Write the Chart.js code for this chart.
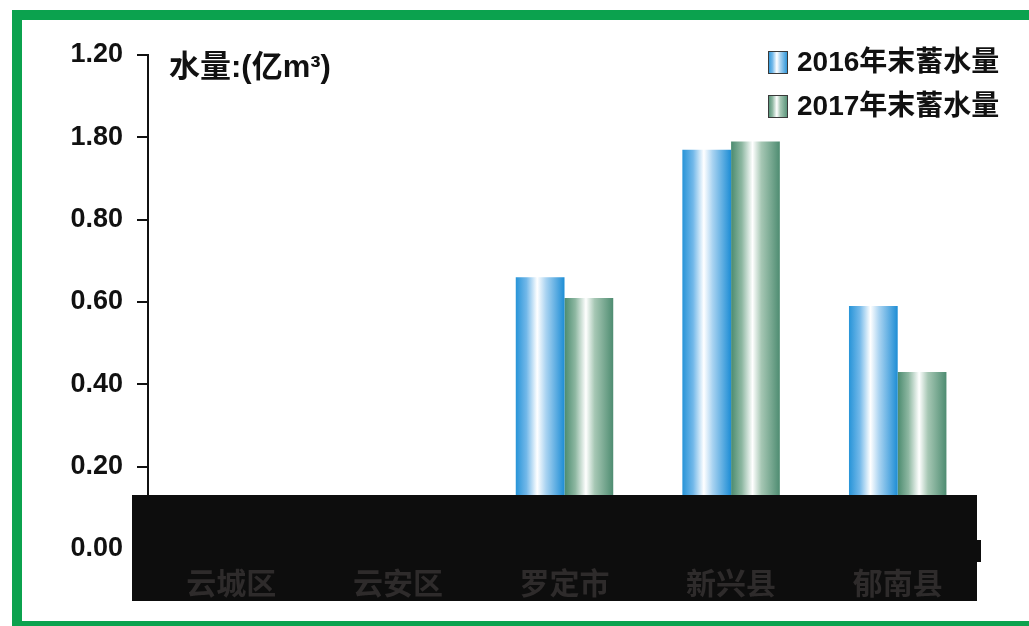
<!DOCTYPE html>
<html>
<head>
<meta charset="utf-8">
<script src="https://cdn.jsdelivr.net/npm/chart.js@4.4.0/dist/chart.umd.min.js"></script>
<style>
  body { margin: 0; background: #fff; overflow: hidden; }
  #wrap { position: relative; width: 1029px; height: 626px; overflow: hidden; }
  #frame {
    position: absolute; left: 12px; top: 10px; width: 1100px; height: 601px;
    border: 10px solid #0ba24e; pointer-events: none;
  }
</style>
</head>
<body>
<div id="wrap">
  <canvas id="myChart" width="1029" height="626"></canvas>
  <div id="frame"></div>
</div>
<script>
const categories = ['云城区', '云安区', '罗定市', '新兴县', '郁南县'];
const storage2016 = [null, null, 0.66, 0.97, 0.59];
const storage2017 = [null, null, 0.61, 0.99, 0.43];
const seriesNames = ['2016年末蓄水量', '2017年末蓄水量'];
const yTickLabels = ['0.00', '0.20', '0.40', '0.60', '0.80', '1.80', '1.20'];
const unitLabel = '水量:(亿m³)';

const CAT_PCT = 0.585;
const blueStops = [[0, '#2794d8'], [0.22, '#72b8e9'], [0.44, '#ffffff'], [0.62, '#a9d3f1'], [1, '#1d8dd5']];
const greenStops = [[0, '#4b8b6f'], [0.22, '#8db7a1'], [0.44, '#ffffff'], [0.62, '#a6c7b4'], [1, '#4e8c71']];

function makeGradient(ctx2d, left, width, stops) {
  const g = ctx2d.createLinearGradient(left, 0, left + width, 0);
  for (const s of stops) g.addColorStop(s[0], s[1]);
  return g;
}

// horizontal shine across each bar, worked out from the category scale
function barFill(stops) {
  return function(ctx) {
    const chart = ctx.chart;
    const xs = chart.scales.x;
    if (!xs || ctx.dataIndex === undefined) return stops[0][1];
    const catW = xs.width / categories.length;
    const groupW = catW * CAT_PCT;
    const barW = groupW / 2;
    const left = xs.getPixelForValue(ctx.dataIndex) - groupW / 2 + ctx.datasetIndex * barW;
    if (!isFinite(left) || !isFinite(barW) || barW <= 0) return stops[0][1];
    return makeGradient(chart.ctx, left, barW, stops);
  };
}

// black band over the foot of the chart (category labels are drawn on top of it)
const bandPlugin = {
  id: 'band',
  afterDatasetsDraw(chart) {
    const c = chart.ctx;
    c.save();
    c.fillStyle = '#0d0d0d';
    c.fillRect(132, 495, 845, 106);
    c.fillRect(976, 540, 5, 22);
    c.restore();
  }
};

// unit caption and legend
const labelsPlugin = {
  id: 'labels',
  afterDraw(chart) {
    const c = chart.ctx;
    c.save();
    c.fillStyle = '#111';
    c.textBaseline = 'middle';
    c.font = 'bold 31px "Liberation Sans", "Noto Sans CJK SC"';
    c.fillText(unitLabel, 169, 68);

    const fills = [blueStops, greenStops];
    chart.data.datasets.forEach(function(ds, i) {
      const y = 51 + i * 44;
      c.fillStyle = makeGradient(c, 768, 20, fills[i]);
      c.fillRect(768, y, 20, 23);
      c.strokeStyle = '#3a3a3a';
      c.lineWidth = 1;
      c.strokeRect(768.5, y + 0.5, 19, 22);
      c.fillStyle = '#111';
      c.font = 'bold 28px "Liberation Sans", "Noto Sans CJK SC"';
      c.fillText(ds.label, 797, y + 12);
    });
    c.restore();
  }
};

const data = {
  labels: categories,
  datasets: [
    {
      label: seriesNames[0],
      data: storage2016,
      backgroundColor: barFill(blueStops),
      borderWidth: 0,
      categoryPercentage: CAT_PCT,
      barPercentage: 1.0
    },
    {
      label: seriesNames[1],
      data: storage2017,
      backgroundColor: barFill(greenStops),
      borderWidth: 0,
      categoryPercentage: CAT_PCT,
      barPercentage: 1.0
    }
  ]
};

const config = {
  type: 'bar',
  data: data,
  options: {
    responsive: false,
    animation: false,
    layout: { padding: { left: 0, top: 55, right: 48, bottom: 0 } },
    plugins: {
      legend: { display: false },
      tooltip: { enabled: false }
    },
    scales: {
      x: {
        grid: { display: false, drawTicks: false },
        border: { display: false },
        ticks: {
          z: 1,
          color: '#2e2b2b',
          padding: 16,
          maxRotation: 0,
          autoSkip: false,
          font: { family: '"Noto Sans CJK SC"', size: 30, weight: 'bold' }
        },
        afterFit: function(scale) { scale.height = 77; }
      },
      y: {
        min: 0,
        max: 1.2,
        grid: {
          drawOnChartArea: false,
          drawTicks: true,
          tickLength: 11,
          color: '#111',
          lineWidth: 2
        },
        border: { display: true, color: '#111', width: 2 },
        ticks: {
          stepSize: 0.2,
          padding: 14,
          color: '#111',
          font: { family: '"Liberation Sans"', size: 27, weight: 'bold' },
          callback: function(value, index) { return yTickLabels[index]; }
        },
        afterFit: function(scale) { scale.width = 148; }
      }
    }
  },
  plugins: [bandPlugin, labelsPlugin]
};

const myChart = new Chart(document.getElementById('myChart'), config);
</script>
</body>
</html>
